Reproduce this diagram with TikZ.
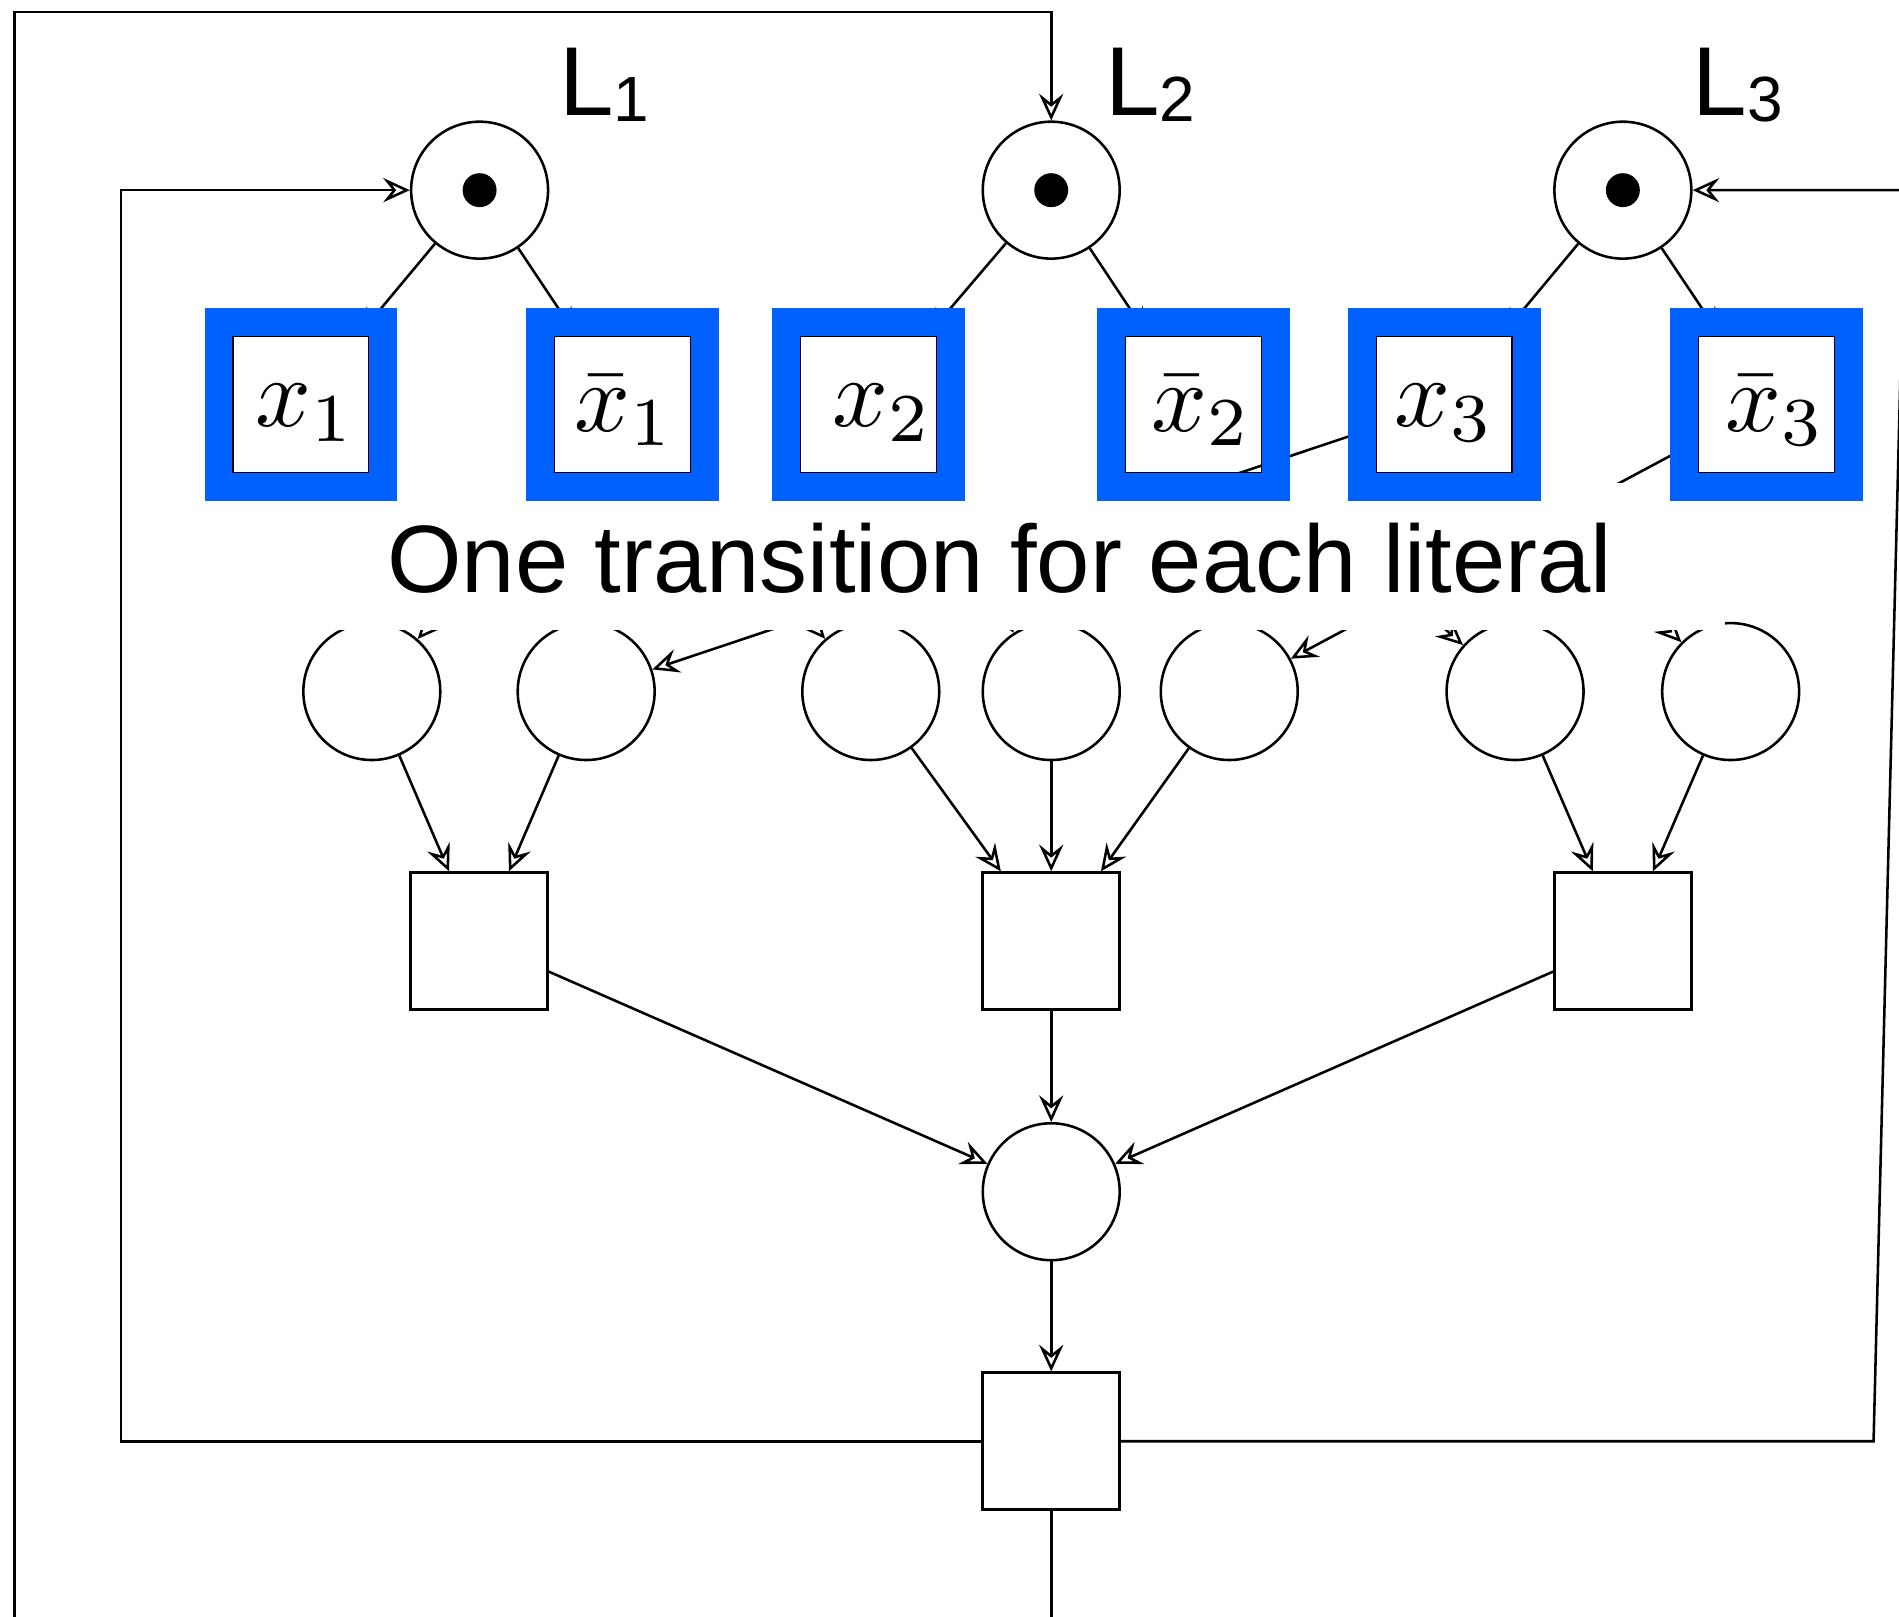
\documentclass[tikz,border=0pt]{standalone}
\usepackage{graphicx}
\usepackage[no-math]{fontspec}
\newfontfamily\lsans{Liberation Sans}
\usetikzlibrary{arrows.meta}
\definecolor{hiblue}{RGB}{0,97,255}
\newcommand{\litlabel}[1]{\scalebox{2.3}{$#1$}}
\newcommand{\plabel}[1]{L\raisebox{-1.6pt}{\fontsize{15}{18}\selectfont #1}}
\begin{document}
\begin{tikzpicture}[x=0.01cm,y=-0.01cm,
  place/.style={circle,draw,line width=0.6pt,minimum size=1.13cm,inner sep=0pt},
  trans/.style={rectangle,draw,line width=0.6pt,minimum size=1.13cm,inner sep=0pt},
  arc/.style={line width=0.6pt,-{Stealth[open,length=0.22cm,width=0.2cm,inset=0.08cm]}},
  token/.style={circle,fill=black,minimum size=0.28cm,inner sep=0pt},
  hilite/.style={rectangle,draw=hiblue,line width=0.23cm,minimum size=1.36cm,inner sep=0pt},
  lit/.style={anchor=base,inner sep=0pt},
  lbl/.style={font=\lsans\fontsize{23}{27}\selectfont,anchor=base west,inner sep=0pt},
  band/.style={fill=white,draw=none}]
\useasboundingbox (0,0) rectangle (1568,1335);
\clip (0,0) rectangle (1568,1335);

% places of the variables
\node[place] (L1) at (396,157) {};
\node[place] (L2) at (868,157) {};
\node[place] (L3) at (1340,157) {};
\node[token] (k1) at (L1) {};
\node[token] (k2) at (L2) {};
\node[token] (k3) at (L3) {};
\node[lbl] (n1) at (461,95) {\plabel{1}};
\node[lbl] (n2) at (912,95) {\plabel{2}};
\node[lbl] (n3) at (1397,95) {\plabel{3}};

% literal transitions
\node[trans] (t1)  at (248.5,334) {};
\node[trans] (t1n) at (514,334) {};
\node[trans] (t2)  at (717,334) {};
\node[trans] (t2n) at (985.5,334) {};
\node[trans] (t3)  at (1192.5,334) {};
\node[trans] (t3n) at (1458.5,334) {};
\node[lit] (m1)  at (252,352) {\litlabel{x_1}};
\node[lit] (m1n) at (516,356) {\litlabel{\bar{x}_1}};
\node[lit] (m2)  at (729,352) {\litlabel{x_2}};
\node[lit] (m2n) at (992,356) {\litlabel{\bar{x}_2}};
\node[lit] (m3)  at (1193,352) {\litlabel{x_3}};
\node[lit] (m3n) at (1466,356) {\litlabel{\bar{x}_3}};

% clause places
\node[place] (c1) at (307,571) {};
\node[place] (c2) at (484,571) {};
\node[place] (c3) at (719,571) {};
\node[place] (c4) at (868,571) {};
\node[place] (c5) at (1015,571) {};
\node[place] (c6) at (1251,571) {};
\node[place] (c7) at (1429,571) {};

% clause transitions
\node[trans] (C1) at (395.5,777) {};
\node[trans] (C2) at (868,777) {};
\node[trans] (C3) at (1340,777) {};
\node[place] (P) at (868,984) {};
\node[trans] (T) at (868,1190) {};

% arcs
\draw[arc] (L1) -- (t1);
\draw[arc] (L1) -- (t1n);
\draw[arc] (L2) -- (t2);
\draw[arc] (L2) -- (t2n);
\draw[arc] (L3) -- (t3);
\draw[arc] (L3) -- (t3n);

\draw[arc] (t1n) -- (c1);
\draw[arc] (t1n) -- (c3);
\draw[arc] (t2) -- (c4);
\draw[arc] (t2n) -- (c6);
\draw[arc] (t3) -- (c2);
\draw[arc] (t3) -- (c7);
\draw[arc] (t3n) -- (c5);

\draw[arc] (c1) -- (C1);
\draw[arc] (c2) -- (C1);
\draw[arc] (c3) -- (C2);
\draw[arc] (c4) -- (C2);
\draw[arc] (c5) -- (C2);
\draw[arc] (c6) -- (C3);
\draw[arc] (c7) -- (C3);

\draw[arc] (C1) -- (P);
\draw[arc] (C2) -- (P);
\draw[arc] (C3) -- (P);
\draw[arc] (P) -- (T);

% feedback loops
\coordinate (a1) at (100,1190);
\coordinate (a2) at (100,157);
\coordinate (b1) at (1547,1190);
\coordinate (b2) at (1573,157);
\coordinate (o1) at (868,1400);
\coordinate (o2) at (12,1400);
\coordinate (o3) at (12,10);
\coordinate (o4) at (868,10);
\draw[arc] (T.west) -- (a1) -- (a2) -- (L1.west);
\draw[arc] (T.east) -- (b1) -- (b2) -- (L3.east);
\draw[arc] (T.south) -- (o1) -- (o2) -- (o3) -- (o4) -- (L2.north);

% overlay
\fill[band] (150,399) rectangle (1424,520);
\node[hilite] (h1)  at (t1) {};
\node[hilite] (h1n) at (t1n) {};
\node[hilite] (h2)  at (t2) {};
\node[hilite] (h2n) at (t2n) {};
\node[hilite] (h3)  at (t3) {};
\node[hilite] (h3n) at (t3n) {};
\node[font=\lsans\fontsize{22.5}{27}\selectfont,anchor=base,inner sep=0pt] (cap) at (825.5,489.5) {One transition for each literal};
\end{tikzpicture}
\end{document}
